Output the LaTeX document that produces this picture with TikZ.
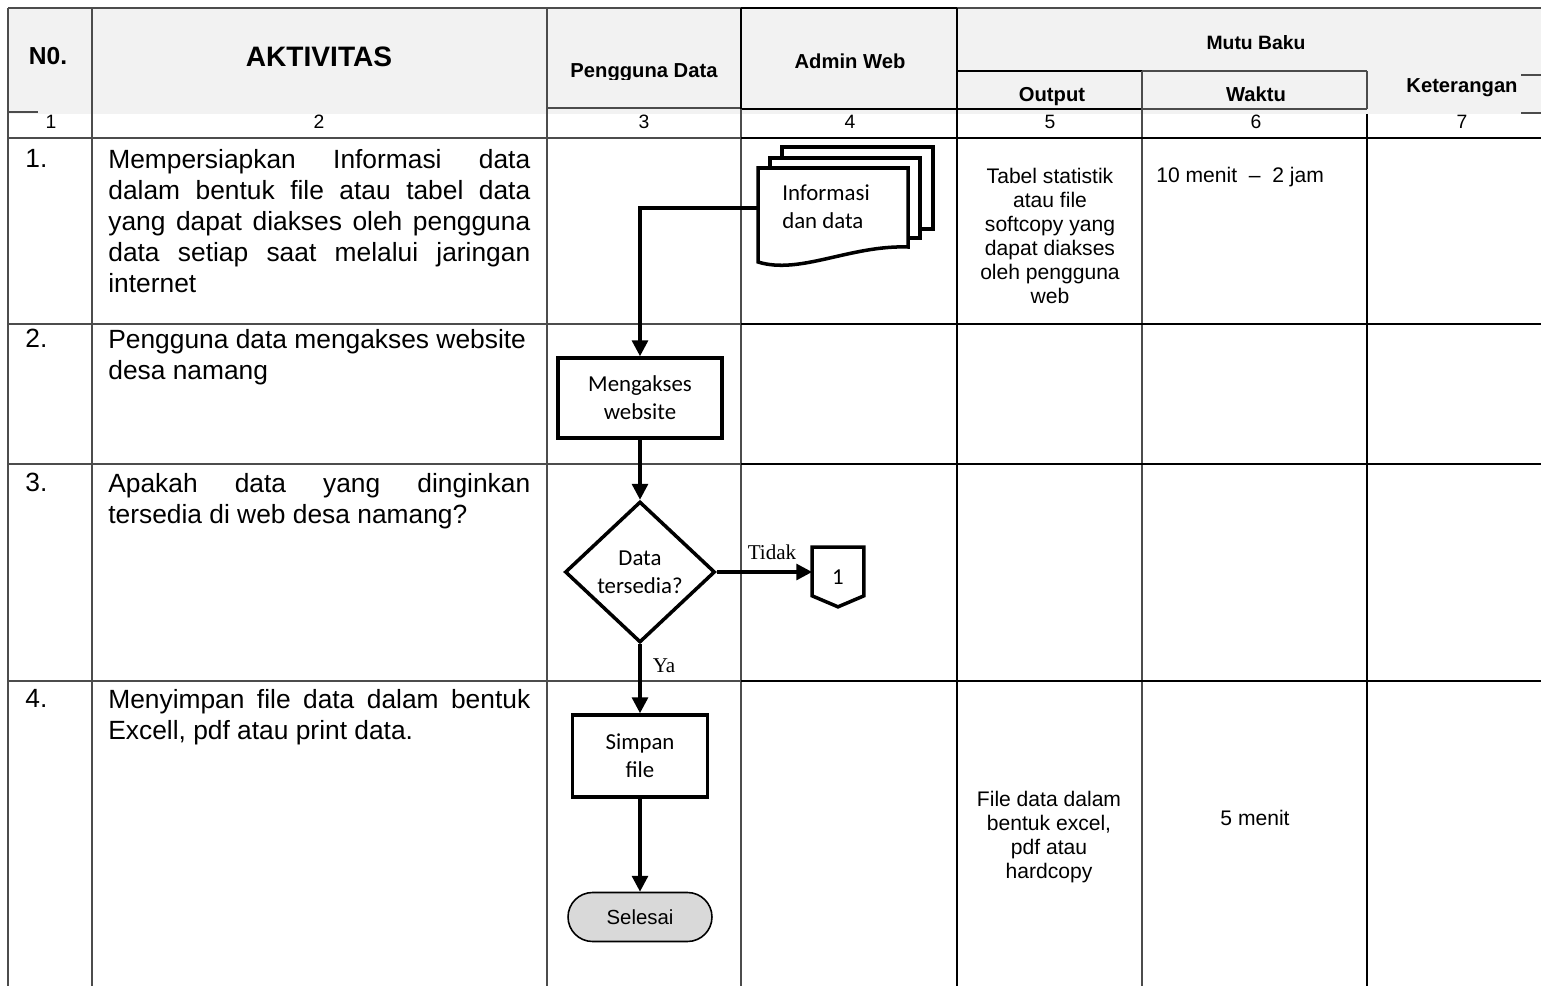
\documentclass[tikz,border=0pt]{standalone}
\usepackage{fontspec}
\setmainfont{Liberation Sans}
\newfontfamily\calibrifont{Carlito}
\newfontfamily\romanfont{Liberation Serif}
\usetikzlibrary{arrows.meta,shapes.geometric,positioning}
\definecolor{headgray}{HTML}{F2F2F2}
\definecolor{endgray}{HTML}{D9D9D9}
\begin{document}
\begin{tikzpicture}[x=0.02cm,y=-0.02cm,
        gridthin/.style={line width=0.6pt,draw=black!70},
        gridthick/.style={line width=1.3pt,draw=black},
        headtext/.style={inner sep=0pt,font=\bfseries\fontsize{11.5pt}{13pt}\selectfont},
        numtext/.style={inner sep=0pt,font=\fontsize{11pt}{13pt}\selectfont},
        rownum/.style={anchor=north west,inner sep=0pt,font=\fontsize{15pt}{17.65pt}\selectfont},
        rowtext/.style={anchor=north west,inner sep=0pt,text width=8.44cm,align=justify,font=\fontsize{15pt}{17.65pt}\selectfont},
        celltext/.style={inner sep=0pt,align=center,font=\fontsize{12pt}{13.66pt}\selectfont},
        procbox/.style={draw,line width=2pt,fill=white,align=center,inner sep=0pt,font=\calibrifont\fontsize{13pt}{16pt}\selectfont},
        sheet/.style={draw,line width=2pt,fill=white},
        labeltext/.style={inner sep=0pt,font=\romanfont\fontsize{12pt}{14pt}\selectfont},
        flow/.style={line width=1.9pt,-{Triangle[width=9pt,length=9pt]}}]
    \useasboundingbox (0,0) rectangle (1541,986);
    %% Header background
    \fill[headgray] (8,8) rectangle (1541,114);
    %% Header lines
    \draw[gridthin] (8,8) -- (1541,8);
    \draw[gridthick] (741,8) -- (957,8);
    \draw[gridthick] (957,71) -- (1142,71);
    \draw[gridthin] (1142,71) -- (1367,71);
    \draw[gridthin] (547,108) -- (741,108);
    \draw[gridthick] (741,109) -- (1142,109);
    \draw[gridthin] (1142,109) -- (1367,109);
    \draw[gridthin] (8,112) -- (38,112);
    \draw[gridthin] (1521,75) -- (1541,75);
    \draw[gridthin] (1521,113) -- (1541,113);
    %% Columns
    \foreach \x in {8,92,547}
        \draw[gridthin] (\x,8) -- (\x,986);
    \draw[gridthick] (741,8) -- (741,109);
    \draw[gridthin] (741,109) -- (741,986);
    \draw[gridthick] (957,8) -- (957,986);
    \draw[gridthin,line width=0.9pt] (1142,71) -- (1142,986);
    \draw[gridthin] (1367,71) -- (1367,109);
    \draw[gridthick] (1367,114) -- (1367,986);
    %% Rows
    \foreach \y in {138,324,464,681} {
        \draw[gridthin] (8,\y) -- (741,\y);
        \draw[gridthick] (741,\y) -- (1541,\y);
    }
    %% Header texts
    \node[inner sep=0pt,font=\bfseries\fontsize{14pt}{16pt}\selectfont] (no) at (48,56) {N0.};
    \node[inner sep=0pt,font=\bfseries\fontsize{16pt}{18pt}\selectfont] (aktivitas) at (319,57) {AKTIVITAS};
    \begin{scope}
        \clip (547,8) rectangle (741,80);
        \node[headtext,anchor=base] (pengguna) at (644,78) {Pengguna Data};
    \end{scope}
    \node[headtext] (admin) at (850,61) {Admin Web};
    \node[headtext,font=\bfseries\fontsize{11pt}{13pt}\selectfont] (mutu) at (1256,43) {Mutu Baku};
    \node[headtext,anchor=base] (output) at (1052,102) {Output};
    \node[headtext,anchor=base] (waktu) at (1256,102) {Waktu};
    \node[headtext] (ket) at (1462,88) {Keterangan};
    \foreach \x/\n in {51/1,319/2,644/3,850/4,1050/5,1256/6,1462/7}
        \node[numtext] (num\n) at (\x,122) {\n};
    %% Activities
    \node[rownum] (no1) at (25,149) {1.};
    \node[rowtext] (act1) at (108,149) {Mempersiapkan Informasi data\linebreak dalam bentuk file atau tabel data\linebreak yang dapat diakses oleh pengguna\linebreak data setiap saat melalui jaringan\linebreak internet};
    \node[rownum] (no2) at (25,329) {2.};
    \node[rowtext] (act2) at (108,329) {Pengguna data mengakses website\\desa namang};
    \node[rownum] (no3) at (25,473) {3.};
    \node[rowtext] (act3) at (108,473) {Apakah data yang dinginkan\linebreak tersedia di web desa namang?};
    \node[rownum] (no4) at (25,689) {4.};
    \node[rowtext] (act4) at (108,689) {Menyimpan file data dalam bentuk\linebreak Excell, pdf atau print data.};
    %% Mutu baku
    \node[celltext] (out1) at (1050,236) {Tabel statistik\\atau file\\softcopy yang\\dapat diakses\\oleh pengguna\\web};
    \node[celltext,anchor=west] (time1) at (1156,177) {10 menit~ \textendash~ 2 jam};
    \node[celltext] (out4) at (1049,837) {File data dalam\\bentuk excel,\\pdf atau\\hardcopy};
    \node[celltext] (time4) at (1255,818) {5 menit};
    %% Informasi dan data
    \draw[sheet] (782,147) rectangle (933,229);
    \draw[sheet] (770,158) rectangle (920,238);
    \draw[sheet] (758,168) -- (908,168) -- (908,247) .. controls (850,245) and (800,275) .. (758,262) -- cycle;
    \node[inner sep=0pt,align=left,font=\calibrifont\fontsize{13pt}{16pt}\selectfont] (doc) at (826,207) {Informasi\\dan data};
    \coordinate (docout) at (758,208);
    %% Flow
    \node[procbox,minimum width=3.28cm,minimum height=1.6cm] (akses) at (640,398) {Mengakses\\website};
    \node[procbox,diamond,minimum width=3cm,minimum height=2.82cm] (dec) at (640,572) {Data\\tersedia?};
    \node[inner sep=0pt,minimum width=1.02cm,minimum height=1.18cm,font=\calibrifont\fontsize{13pt}{16pt}\selectfont] (conn) at (838,577) {1};
    \draw[line width=2pt] (conn.north west) -- (conn.north east) -- ([yshift=0.22cm]conn.south east) -- (conn.south) -- ([yshift=0.22cm]conn.south west) -- cycle;
    \node[procbox,minimum width=2.7cm,minimum height=1.64cm] (simpan) at (640,756) {Simpan\\file};
    \node[draw,line width=0.9pt,fill=endgray,rounded corners=0.49cm,minimum width=2.88cm,minimum height=0.98cm,inner sep=0pt,font=\fontsize{11.6pt}{13pt}\selectfont] (selesai) at (640,917) {Selesai};
    \draw[flow] (docout) -| (akses.north);
    \draw[flow] (akses) -- (dec);
    \draw[flow] (dec.east) -- (dec.east -| conn.west);
    \node[labeltext,anchor=base] (tidak) at (772,559) {Tidak};
    \draw[flow] (dec) -- (simpan);
    \node[labeltext,anchor=base] (ya) at (664,672) {Ya};
    \draw[flow] (simpan) -- (selesai);
\end{tikzpicture}
\end{document}
